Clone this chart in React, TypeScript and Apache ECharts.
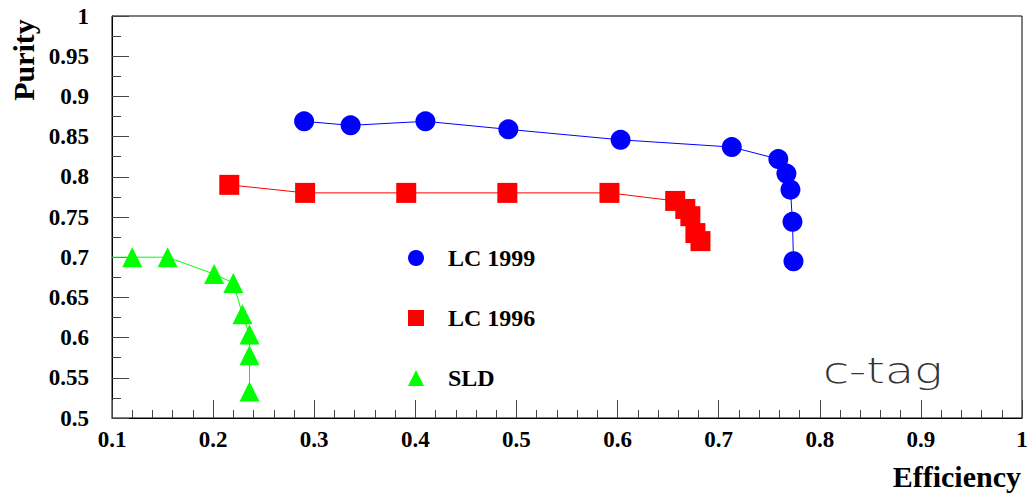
import React, { useEffect, useRef } from "react";
import * as echarts from "echarts";

const seriesNames = ["LC 1999", "LC 1996", "SLD"];

const lc1999X = [0.290, 0.336, 0.410, 0.492, 0.603, 0.713, 0.759, 0.767, 0.771, 0.773, 0.774];
const lc1999Y = [0.869, 0.864, 0.869, 0.859, 0.846, 0.837, 0.822, 0.804, 0.784, 0.744, 0.695];

const lc1996X = [0.216, 0.291, 0.391, 0.491, 0.592, 0.657, 0.667, 0.672, 0.677, 0.682];
const lc1996Y = [0.790, 0.780, 0.780, 0.780, 0.780, 0.770, 0.760, 0.751, 0.730, 0.720];

const sldX = [0.080, 0.120, 0.155, 0.201, 0.220, 0.229, 0.236, 0.236, 0.236];
const sldY = [0.700, 0.700, 0.700, 0.679, 0.668, 0.629, 0.604, 0.578, 0.533];

const xTicks = { min: 0.1, max: 1, interval: 0.1 };
const yTicks = { min: 0.5, max: 1, interval: 0.05 };

const zip = (xs: number[], ys: number[]) => xs.map((x, i) => [x, ys[i]]);

const FONT = "'Liberation Serif', 'Times New Roman', serif";

export default function App() {
  const ref = useRef<HTMLDivElement>(null);
  useEffect(() => {
    if (!ref.current) return;
    const chart = echarts.init(ref.current, undefined, { renderer: "svg" });
    const fmt = (v: number) => String(+v.toFixed(3));
    chart.setOption({
      animation: false,
      backgroundColor: "#fff",
      grid: { left: 112, top: 16, right: 9, bottom: 75, show: true, borderColor: "#000", borderWidth: 1 },
      xAxis: {
        type: "value",
        min: xTicks.min,
        max: xTicks.max,
        interval: xTicks.interval,
        axisLine: { show: true, lineStyle: { color: "#000", width: 1 } },
        axisTick: { show: true, inside: true, length: 18, lineStyle: { color: "#444" } },
        minorTick: { show: true, splitNumber: 5, length: 8, lineStyle: { color: "#444" } },
        splitLine: { show: false },
        axisLabel: { formatter: fmt, margin: 10, color: "#000", fontFamily: FONT, fontWeight: "bold", fontSize: 23 },
      },
      yAxis: {
        type: "value",
        min: yTicks.min,
        max: yTicks.max,
        interval: yTicks.interval,
        axisLine: { show: true, lineStyle: { color: "#000", width: 1 } },
        axisTick: { show: true, inside: true, length: 17, lineStyle: { color: "#444" } },
        minorTick: { show: true, splitNumber: 2, length: 9, lineStyle: { color: "#444" } },
        splitLine: { show: false },
        axisLabel: { formatter: fmt, margin: 23, color: "#000", fontFamily: FONT, fontWeight: "bold", fontSize: 23 },
      },
      legend: {
        orient: "vertical",
        left: 403,
        top: 241,
        itemWidth: 16,
        itemHeight: 16,
        itemGap: 36,
        data: [
          { name: seriesNames[0], icon: "circle" },
          { name: seriesNames[1], icon: "rect" },
          { name: seriesNames[2], icon: "triangle" },
        ],
        textStyle: { fontFamily: FONT, fontWeight: "bold", fontSize: 24, color: "#000", lineHeight: 24, padding: [0, 0, 0, 19] },
      },
      series: [
        {
          name: seriesNames[0],
          type: "line",
          data: zip(lc1999X, lc1999Y),
          symbol: "circle",
          symbolSize: 20,
          color: "#0000ff",
          lineStyle: { color: "#0000ff", width: 1 },
          itemStyle: { color: "#0000ff" },
        },
        {
          name: seriesNames[1],
          type: "line",
          data: zip(lc1996X, lc1996Y),
          symbol: "rect",
          symbolSize: 20,
          color: "#ff0000",
          lineStyle: { color: "#ff0000", width: 1 },
          itemStyle: { color: "#ff0000" },
        },
        {
          name: seriesNames[2],
          type: "line",
          data: zip(sldX, sldY),
          symbol: "triangle",
          symbolSize: 20,
          clip: true,
          color: "#00ff00",
          lineStyle: { color: "#00ff00", width: 1 },
          itemStyle: { color: "#00ff00" },
        },
      ],
      graphic: [
        {
          type: "text",
          x: 23,
          y: 60,
          rotation: Math.PI / 2,
          style: { text: "Purity", fontFamily: FONT, fontWeight: "bold", fontSize: 30, fill: "#000", align: "center", verticalAlign: "middle" },
        },
        {
          type: "text",
          x: 1021,
          y: 476,
          style: { text: "Efficiency", fontFamily: FONT, fontWeight: "bold", fontSize: 30, fill: "#000", align: "right", verticalAlign: "middle" },
        },
        {
          type: "text",
          x: 823,
          y: 371,
          scaleX: 1.32,
          style: { text: "c-tag", fontFamily: "'DejaVu Sans'", fontWeight: 200, fontSize: 36, fill: "#333", align: "left", verticalAlign: "middle" },
        },
      ],
    });
    return () => chart.dispose();
  }, []);
  return <div ref={ref} style={{ position: "fixed", left: 0, top: 0, width: 1031, height: 493 }} />;
}
